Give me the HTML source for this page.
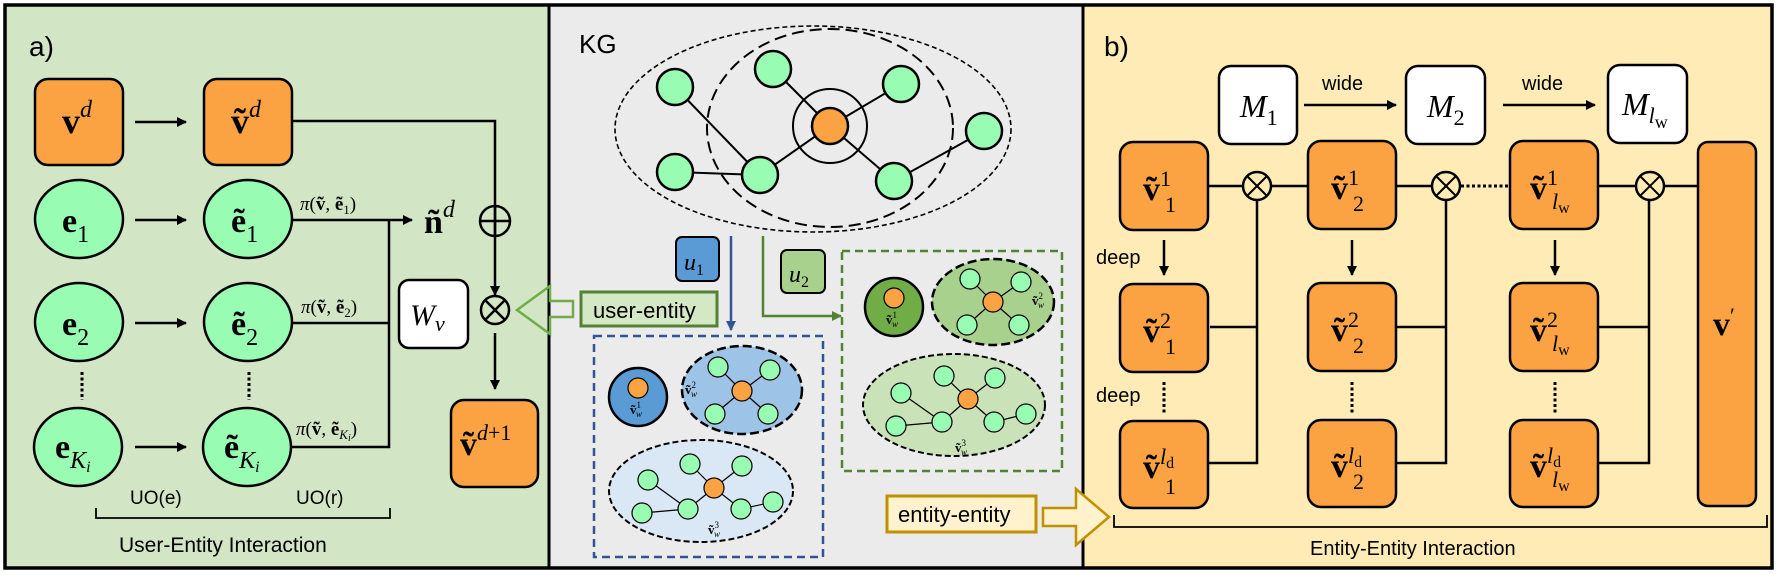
<!DOCTYPE html>
<html><head><meta charset="utf-8"><style>
html,body{margin:0;padding:0;background:#fff}
svg{display:block}
.s{font-family:"Liberation Sans",sans-serif}
.m{font-family:"Liberation Serif","DejaVu Serif",serif}
</style></head><body>
<svg width="1777" height="575" viewBox="0 0 1777 575" xmlns="http://www.w3.org/2000/svg">
<defs>
<marker id="ah" markerWidth="10" markerHeight="10" refX="9" refY="5" orient="auto" markerUnits="userSpaceOnUse"><path d="M0,0 L10,5 L0,10 z" fill="#000"/></marker>
<marker id="ahb" markerWidth="10" markerHeight="10" refX="9" refY="5" orient="auto" markerUnits="userSpaceOnUse"><path d="M0,0 L10,5 L0,10 z" fill="#2f5597"/></marker>
<marker id="ahg" markerWidth="10" markerHeight="10" refX="9" refY="5" orient="auto" markerUnits="userSpaceOnUse"><path d="M0,0 L10,5 L0,10 z" fill="#548235"/></marker>
</defs>
<!-- panels -->
<rect x="0" y="0" width="1777" height="575" fill="#fff"/>
<rect x="5" y="5" width="544" height="563" fill="#d2e5c5"/>
<rect x="549" y="5" width="534" height="563" fill="#ebebeb"/>
<rect x="1083" y="5" width="689" height="563" fill="#ffebb5"/>
<rect x="5" y="5" width="1767" height="563" fill="none" stroke="#000" stroke-width="3.5"/>
<line x1="549" y1="5" x2="549" y2="568" stroke="#000" stroke-width="3"/>
<line x1="1083" y1="5" x2="1083" y2="568" stroke="#000" stroke-width="3"/>

<!-- ===== Panel a ===== -->
<text x="29" y="56" class="s" font-size="28">a)</text>
<g stroke="#000" stroke-width="2.5">
<rect x="35" y="79" width="88" height="86" rx="13" fill="#fba343"/>
<rect x="204" y="79" width="88" height="86" rx="13" fill="#fba343"/>
<rect x="451" y="400" width="87" height="87" rx="13" fill="#fba343"/>
<rect x="399" y="280" width="69" height="68" rx="10" fill="#fff"/>
<ellipse cx="79" cy="219" rx="44" ry="39" fill="#98fcb2"/>
<ellipse cx="248" cy="219" rx="44" ry="39" fill="#98fcb2"/>
<ellipse cx="79" cy="322" rx="44" ry="39" fill="#98fcb2"/>
<ellipse cx="248" cy="322" rx="44" ry="39" fill="#98fcb2"/>
<ellipse cx="78" cy="447" rx="44" ry="39" fill="#98fcb2"/>
<ellipse cx="247" cy="447" rx="44" ry="39" fill="#98fcb2"/>
</g>
<g stroke="#000" stroke-width="2.5" fill="none">
<line x1="135" y1="122" x2="186" y2="122" marker-end="url(#ah)"/>
<line x1="135" y1="220" x2="186" y2="220" marker-end="url(#ah)"/>
<line x1="135" y1="323" x2="186" y2="323" marker-end="url(#ah)"/>
<line x1="135" y1="447" x2="186" y2="447" marker-end="url(#ah)"/>
<polyline points="292,121 495,121 495,295" marker-end="url(#ah)"/>
<line x1="292" y1="220" x2="412" y2="220" marker-end="url(#ah)"/>
<polyline points="292,323 389,323"/>
<polyline points="292,447 389,447 389,220"/>
<line x1="495" y1="333" x2="495" y2="389" marker-end="url(#ah)"/>
<circle cx="495" cy="221" r="15"/>
<line x1="480" y1="221" x2="510" y2="221"/><line x1="495" y1="206" x2="495" y2="236"/>
<circle cx="495" cy="310" r="14" fill="#d2e5c5"/>
<line x1="485" y1="300" x2="505" y2="320"/><line x1="505" y1="300" x2="485" y2="320"/>
<line x1="82" y1="372" x2="82" y2="400" stroke-width="3" stroke-dasharray="3,2.5"/>
<line x1="249" y1="372" x2="249" y2="400" stroke-width="3" stroke-dasharray="3,2.5"/>
<polyline points="96,508 96,518 390,518 390,508" stroke-width="1.8"/>
</g>
<g class="m">
<text x="62" y="133" font-size="36" font-weight="bold">v<tspan font-size="24" font-style="italic" font-weight="normal" dy="-16">d</tspan></text>
<text x="231" y="133" font-size="36" font-weight="bold">ṽ<tspan font-size="24" font-style="italic" font-weight="normal" dy="-16">d</tspan></text>
<text x="62" y="232" font-size="34" font-weight="bold">e<tspan font-size="24" font-weight="normal" dy="10">1</tspan></text>
<text x="231" y="232" font-size="34" font-weight="bold">ẽ<tspan font-size="24" font-weight="normal" dy="10">1</tspan></text>
<text x="62" y="335" font-size="34" font-weight="bold">e<tspan font-size="24" font-weight="normal" dy="10">2</tspan></text>
<text x="231" y="335" font-size="34" font-weight="bold">ẽ<tspan font-size="24" font-weight="normal" dy="10">2</tspan></text>
<text x="55" y="458" font-size="34" font-weight="bold">e<tspan font-size="24" font-style="italic" font-weight="normal" dy="10">K<tspan font-size="16" dy="4">i</tspan></tspan></text>
<text x="224" y="458" font-size="34" font-weight="bold">ẽ<tspan font-size="24" font-style="italic" font-weight="normal" dy="10">K<tspan font-size="16" dy="4">i</tspan></tspan></text>
<text x="300" y="210" font-size="19"><tspan font-style="italic">π</tspan>(<tspan font-weight="bold">ṽ</tspan>, <tspan font-weight="bold">ẽ</tspan><tspan font-size="13" dy="4">1</tspan><tspan dy="-4">)</tspan></text>
<text x="301" y="313" font-size="19"><tspan font-style="italic">π</tspan>(<tspan font-weight="bold">ṽ</tspan>, <tspan font-weight="bold">ẽ</tspan><tspan font-size="13" dy="4">2</tspan><tspan dy="-4">)</tspan></text>
<text x="296" y="435" font-size="19"><tspan font-style="italic">π</tspan>(<tspan font-weight="bold">ṽ</tspan>, <tspan font-weight="bold">ẽ</tspan><tspan font-size="13" font-style="italic" dy="4">K</tspan><tspan font-size="10" font-style="italic" dy="2">i</tspan><tspan dy="-6">)</tspan></text>
<text x="424" y="233" font-size="34" font-weight="bold">ñ<tspan font-size="24" font-style="italic" font-weight="normal" dy="-16">d</tspan></text>
<text x="410" y="325" font-size="30" font-style="italic">W<tspan font-size="22" dy="6">v</tspan></text>
<text x="460" y="455" font-size="34" font-weight="bold">ṽ<tspan font-size="22" font-weight="normal" dy="-15"><tspan font-style="italic">d</tspan>+1</tspan></text>
</g>
<g class="s" font-size="19">
<text x="130" y="504">UO(e)</text>
<text x="296" y="504">UO(r)</text>
<text x="119" y="552" font-size="21">User-Entity Interaction</text>
</g>

<!-- ===== Middle KG ===== -->
<text x="579" y="53" class="s" font-size="26">KG</text>
<g fill="none" stroke="#000">
<ellipse cx="813" cy="129" rx="198" ry="103" stroke-width="1.6" stroke-dasharray="5,3"/>
<ellipse cx="830" cy="128" rx="123" ry="99" stroke-width="2" stroke-dasharray="12,6"/>
<circle cx="830" cy="126" r="37" stroke-width="2"/>
<g stroke-width="2">
<line x1="675" y1="87" x2="760" y2="175"/>
<line x1="675" y1="172" x2="760" y2="175"/>
<line x1="760" y1="175" x2="830" y2="126"/>
<line x1="773" y1="69" x2="830" y2="126"/>
<line x1="901" y1="84" x2="830" y2="126"/>
<line x1="830" y1="126" x2="894" y2="181"/>
<line x1="894" y1="181" x2="984" y2="131"/>
</g>
</g>
<g stroke="#000" stroke-width="2.5" fill="#98fcb2">
<circle cx="675" cy="87" r="18"/><circle cx="773" cy="69" r="18"/><circle cx="901" cy="84" r="18"/>
<circle cx="984" cy="131" r="18"/><circle cx="675" cy="172" r="18"/><circle cx="760" cy="175" r="18"/>
<circle cx="894" cy="181" r="18"/>
<circle cx="830" cy="126" r="18" fill="#fba343"/>
</g>
<!-- u1 / u2 -->
<rect x="676" y="237" width="43" height="44" rx="6" fill="#5b9bd5" stroke="#000" stroke-width="2"/>
<text x="684" y="270" class="m" font-size="24" font-style="italic">u<tspan font-size="16" font-style="normal" dy="5">1</tspan></text>
<rect x="781" y="250" width="44" height="43" rx="6" fill="#a9d18e" stroke="#000" stroke-width="2"/>
<text x="789" y="282" class="m" font-size="24" font-style="italic">u<tspan font-size="16" font-style="normal" dy="5">2</tspan></text>
<line x1="731" y1="236" x2="731" y2="330" stroke="#2f5597" stroke-width="2.5" marker-end="url(#ahb)"/>
<polyline points="763,236 763,316 841,316" fill="none" stroke="#548235" stroke-width="2.5" marker-end="url(#ahg)"/>
<!-- user-entity -->
<rect x="581" y="292" width="136" height="34" fill="#d5e8c6" stroke="#548235" stroke-width="3"/>
<text x="593" y="318" class="s" font-size="22">user-entity</text>
<polygon points="517,310 550,286 550,301 573,301 573,317 550,317 550,334" fill="none" stroke="#70ad47" stroke-width="2.5"/>
<!-- blue group -->
<rect x="594" y="336" width="229" height="221" fill="none" stroke="#2f5597" stroke-width="2.5" stroke-dasharray="8,5"/>
<g stroke="#000">
<circle cx="638" cy="397" r="29" fill="#5b9bd5" stroke-width="2.5"/>
<ellipse cx="742" cy="390" rx="60" ry="44" fill="#9dc3e6" stroke-width="2.5" stroke-dasharray="9,4"/>
<ellipse cx="701" cy="491" rx="92" ry="51" fill="#dae8f5" stroke-width="2" stroke-dasharray="6,3"/>
<g stroke-width="1.2">
<line x1="742" y1="391" x2="718" y2="367"/><line x1="742" y1="391" x2="770" y2="370"/>
<line x1="742" y1="391" x2="715" y2="414"/><line x1="742" y1="391" x2="768" y2="414"/>
<line x1="648" y1="480" x2="688" y2="509"/><line x1="642" y1="513" x2="688" y2="509"/>
<line x1="688" y1="509" x2="714" y2="488"/><line x1="714" y1="488" x2="690" y2="464"/>
<line x1="714" y1="488" x2="742" y2="466"/><line x1="714" y1="488" x2="741" y2="509"/>
<line x1="741" y1="509" x2="773" y2="502"/>
</g>
<g stroke-width="1.2" fill="#98fcb2">
<circle cx="718" cy="367" r="10"/><circle cx="770" cy="370" r="10"/><circle cx="715" cy="414" r="10"/><circle cx="768" cy="414" r="10"/>
<circle cx="690" cy="464" r="10"/><circle cx="742" cy="466" r="10"/><circle cx="648" cy="480" r="10"/><circle cx="642" cy="513" r="10"/>
<circle cx="688" cy="509" r="10"/><circle cx="741" cy="509" r="10"/><circle cx="773" cy="502" r="10"/>
<circle cx="742" cy="391" r="10" fill="#fba343"/><circle cx="714" cy="488" r="10" fill="#fba343"/><circle cx="638" cy="388" r="10" fill="#fba343"/>
</g>
</g>
<g class="m" font-size="13" font-weight="bold">
<text x="630" y="414">ṽ<tspan font-size="9" font-weight="normal" dy="-6">1</tspan><tspan font-size="9" font-style="italic" font-weight="normal" dx="-5" dy="9">w</tspan></text>
<text x="685" y="394">ṽ<tspan font-size="9" font-weight="normal" dy="-6">2</tspan><tspan font-size="9" font-style="italic" font-weight="normal" dx="-5" dy="9">w</tspan></text>
<text x="708" y="534">ṽ<tspan font-size="9" font-weight="normal" dy="-6">3</tspan><tspan font-size="9" font-style="italic" font-weight="normal" dx="-5" dy="9">w</tspan></text>
</g>
<!-- green group -->
<rect x="842" y="251" width="220" height="220" fill="none" stroke="#548235" stroke-width="2.5" stroke-dasharray="8,5"/>
<g stroke="#000">
<circle cx="894" cy="307" r="29" fill="#70ad47" stroke-width="2.5"/>
<ellipse cx="993" cy="302" rx="61" ry="43" fill="#a9d18e" stroke-width="2.5" stroke-dasharray="9,4"/>
<ellipse cx="954" cy="405" rx="91" ry="51" fill="#c9e2b8" stroke-width="2" stroke-dasharray="6,3"/>
<g stroke-width="1.2">
<line x1="993" y1="302" x2="970" y2="279"/><line x1="993" y1="302" x2="1021" y2="282"/>
<line x1="993" y1="302" x2="967" y2="325"/><line x1="993" y1="302" x2="1019" y2="325"/>
<line x1="901" y1="393" x2="942" y2="422"/><line x1="896" y1="426" x2="942" y2="422"/>
<line x1="942" y1="422" x2="968" y2="399"/><line x1="968" y1="399" x2="944" y2="376"/>
<line x1="968" y1="399" x2="995" y2="378"/><line x1="968" y1="399" x2="994" y2="422"/>
<line x1="994" y1="422" x2="1026" y2="414"/>
</g>
<g stroke-width="1.2" fill="#98fcb2">
<circle cx="970" cy="279" r="10"/><circle cx="1021" cy="282" r="10"/><circle cx="967" cy="325" r="10"/><circle cx="1019" cy="325" r="10"/>
<circle cx="944" cy="376" r="10"/><circle cx="995" cy="378" r="10"/><circle cx="901" cy="393" r="10"/><circle cx="896" cy="426" r="10"/>
<circle cx="942" cy="422" r="10"/><circle cx="994" cy="422" r="10"/><circle cx="1026" cy="414" r="10"/>
<circle cx="993" cy="302" r="10" fill="#fba343"/><circle cx="968" cy="399" r="10" fill="#fba343"/><circle cx="894" cy="298" r="10" fill="#fba343"/>
</g>
</g>
<g class="m" font-size="13" font-weight="bold">
<text x="886" y="324">ṽ<tspan font-size="9" font-weight="normal" dy="-6">1</tspan><tspan font-size="9" font-style="italic" font-weight="normal" dx="-5" dy="9">w</tspan></text>
<text x="1032" y="305">ṽ<tspan font-size="9" font-weight="normal" dy="-6">2</tspan><tspan font-size="9" font-style="italic" font-weight="normal" dx="-5" dy="9">w</tspan></text>
<text x="955" y="452">ṽ<tspan font-size="9" font-weight="normal" dy="-6">3</tspan><tspan font-size="9" font-style="italic" font-weight="normal" dx="-5" dy="9">w</tspan></text>
</g>
<!-- entity-entity -->
<rect x="887" y="496" width="149" height="36" fill="#fff2cc" stroke="#bf9000" stroke-width="3"/>
<text x="898" y="522" class="s" font-size="22">entity-entity</text>
<polygon points="1043,508 1076,508 1076,489 1109,517 1076,545 1076,526 1043,526" fill="#fff2cc" stroke="#bf9000" stroke-width="2.5"/>

<!-- ===== Panel b ===== -->
<text x="1104" y="56" class="s" font-size="28">b)</text>
<g stroke="#000" stroke-width="2.5" fill="none">
<line x1="1304" y1="105" x2="1396" y2="105" marker-end="url(#ah)"/>
<line x1="1503" y1="105" x2="1595" y2="105" marker-end="url(#ah)"/>
<line x1="1208" y1="186" x2="1699" y2="186"/>
<line x1="1460" y1="186" x2="1509" y2="186" stroke="#ffebb5" stroke-width="4"/>
<line x1="1461" y1="186" x2="1509" y2="186" stroke-dasharray="3,2.5" stroke-width="3"/>
<polyline points="1210,327 1257,327"/><polyline points="1208,463 1257,463 1257,186"/>
<polyline points="1396,327 1446,327"/><polyline points="1396,463 1446,463 1446,186"/>
<polyline points="1598,327 1649,327"/><polyline points="1598,463 1649,463 1649,186"/>
<line x1="1164" y1="240" x2="1164" y2="275" marker-end="url(#ah)"/>
<line x1="1352" y1="240" x2="1352" y2="275" marker-end="url(#ah)"/>
<line x1="1555" y1="240" x2="1555" y2="275" marker-end="url(#ah)"/>
<line x1="1164" y1="382" x2="1164" y2="413" stroke-width="3" stroke-dasharray="3,2.5"/>
<line x1="1352" y1="382" x2="1352" y2="413" stroke-width="3" stroke-dasharray="3,2.5"/>
<line x1="1555" y1="382" x2="1555" y2="413" stroke-width="3" stroke-dasharray="3,2.5"/>
<polyline points="1114,515 1114,527 1767,527 1767,515" stroke-width="1.8"/>
</g>
<g stroke="#000" stroke-width="2.5">
<rect x="1219" y="66" width="78" height="78" rx="12" fill="#fff"/>
<rect x="1406" y="66" width="79" height="78" rx="12" fill="#fff"/>
<rect x="1608" y="65" width="79" height="78" rx="12" fill="#fff"/>
<g fill="#fba343">
<rect x="1120" y="142" width="88" height="88" rx="13"/><rect x="1120" y="284" width="88" height="88" rx="13"/><rect x="1120" y="421" width="88" height="87" rx="13"/>
<rect x="1308" y="141" width="88" height="88" rx="13"/><rect x="1308" y="283" width="88" height="88" rx="13"/><rect x="1308" y="420" width="88" height="87" rx="13"/>
<rect x="1510" y="141" width="88" height="88" rx="13"/><rect x="1510" y="283" width="88" height="88" rx="13"/><rect x="1510" y="420" width="88" height="87" rx="13"/>
<rect x="1698" y="142" width="58" height="364" rx="10"/>
</g>
<g fill="#ffebb5">
<circle cx="1257" cy="186" r="14"/><circle cx="1446" cy="186" r="14"/><circle cx="1650" cy="186" r="14"/>
</g>
<g stroke-width="2">
<path d="M1247,176 L1267,196 M1267,176 L1247,196"/>
<path d="M1436,176 L1456,196 M1456,176 L1436,196"/>
<path d="M1640,176 L1660,196 M1660,176 L1640,196"/>
</g>
</g>
<g class="s" font-size="20">
<text x="1322" y="90">wide</text>
<text x="1522" y="90">wide</text>
<text x="1096" y="264">deep</text>
<text x="1096" y="402">deep</text>
<text x="1310" y="555" font-size="20">Entity-Entity Interaction</text>
</g>
<g class="m">
<text x="1240" y="117" font-size="32" font-style="italic">M<tspan font-size="22" font-style="normal" dy="8">1</tspan></text>
<text x="1427" y="117" font-size="32" font-style="italic">M<tspan font-size="22" font-style="normal" dy="8">2</tspan></text>
<text x="1622" y="115" font-size="32" font-style="italic">M<tspan font-size="22" dy="8">l</tspan><tspan font-size="18" font-style="normal" dy="5">w</tspan></text>
<g font-size="34" font-weight="bold">
<text x="1143" y="200">ṽ<tspan font-size="22" font-weight="normal" dy="-14">1</tspan><tspan font-size="22" font-weight="normal" x="1165" dy="26">1</tspan></text>
<text x="1143" y="342">ṽ<tspan font-size="22" font-weight="normal" dy="-14">2</tspan><tspan font-size="22" font-weight="normal" x="1165" dy="26">1</tspan></text>
<text x="1143" y="478">ṽ<tspan font-size="22" font-weight="normal" dy="-14"><tspan font-style="italic">l</tspan><tspan font-size="16" dy="4">d</tspan></tspan><tspan font-size="22" font-weight="normal" x="1165" dy="26">1</tspan></text>
<text x="1331" y="199">ṽ<tspan font-size="22" font-weight="normal" dy="-14">1</tspan><tspan font-size="22" font-weight="normal" x="1353" dy="26">2</tspan></text>
<text x="1331" y="341">ṽ<tspan font-size="22" font-weight="normal" dy="-14">2</tspan><tspan font-size="22" font-weight="normal" x="1353" dy="26">2</tspan></text>
<text x="1331" y="477">ṽ<tspan font-size="22" font-weight="normal" dy="-14"><tspan font-style="italic">l</tspan><tspan font-size="16" dy="4">d</tspan></tspan><tspan font-size="22" font-weight="normal" x="1353" dy="22">2</tspan></text>
<text x="1530" y="199">ṽ<tspan font-size="22" font-weight="normal" dy="-14">1</tspan><tspan font-size="22" font-weight="normal" font-style="italic" x="1552" dy="24">l</tspan><tspan font-size="16" font-weight="normal" dy="4">w</tspan></text>
<text x="1530" y="341">ṽ<tspan font-size="22" font-weight="normal" dy="-14">2</tspan><tspan font-size="22" font-weight="normal" font-style="italic" x="1552" dy="24">l</tspan><tspan font-size="16" font-weight="normal" dy="4">w</tspan></text>
<text x="1530" y="477">ṽ<tspan font-size="22" font-weight="normal" dy="-14"><tspan font-style="italic">l</tspan><tspan font-size="16" dy="4">d</tspan></tspan><tspan font-size="22" font-weight="normal" font-style="italic" x="1552" dy="20">l</tspan><tspan font-size="16" font-weight="normal" dy="4">w</tspan></text>
<text x="1713" y="335">v<tspan font-size="22" font-weight="normal" dy="-12">′</tspan></text>
</g>
</g>
</svg>
</body></html>
